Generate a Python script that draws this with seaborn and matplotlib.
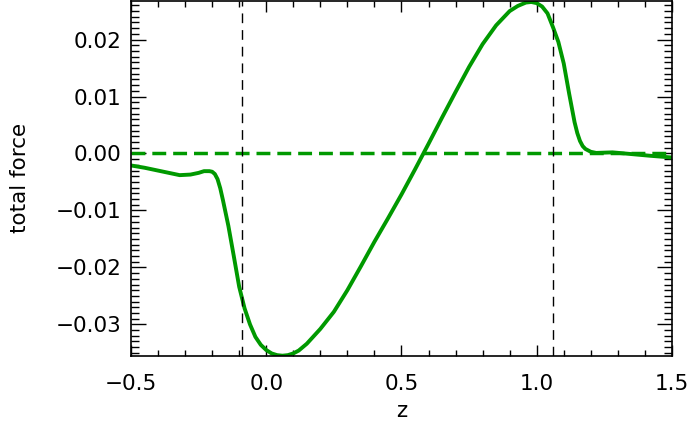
import matplotlib
matplotlib.use("Agg")
import matplotlib.pyplot as plt
import seaborn as sns
from matplotlib.ticker import MultipleLocator, FuncFormatter

# curve
z = [-0.50, -0.45, -0.40, -0.35, -0.32, -0.28, -0.25, -0.23, -0.21, -0.20,
     -0.19, -0.18, -0.17, -0.16, -0.14, -0.12, -0.10, -0.08, -0.06, -0.04,
     -0.02, 0.00, 0.02, 0.04, 0.06, 0.08, 0.10, 0.12, 0.15, 0.20,
     0.25, 0.30, 0.35, 0.40, 0.45, 0.50, 0.55, 0.60, 0.65, 0.70,
     0.75, 0.80, 0.85, 0.90, 0.93, 0.96, 0.98, 1.00, 1.02, 1.04,
     1.06, 1.08, 1.10, 1.12, 1.14, 1.15, 1.16, 1.17, 1.18, 1.20,
     1.22, 1.28, 1.35, 1.42, 1.50]
force = [-0.0021, -0.0025, -0.0030, -0.0035, -0.0038, -0.0037, -0.0034, -0.0031, -0.0031, -0.0032,
         -0.0036, -0.0045, -0.0061, -0.0082, -0.0127, -0.0180, -0.0234, -0.0272, -0.0300, -0.0322,
         -0.0336, -0.0345, -0.0351, -0.0354, -0.0355, -0.0354, -0.0351, -0.0346, -0.0334, -0.0308,
         -0.0278, -0.0240, -0.0198, -0.0155, -0.0114, -0.0072, -0.0028, 0.0017, 0.0063, 0.0108,
         0.0152, 0.0192, 0.0225, 0.0250, 0.0259, 0.0265, 0.0266, 0.0264, 0.0258, 0.0246,
         0.0222, 0.0196, 0.0158, 0.0105, 0.0055, 0.0036, 0.0022, 0.0013, 0.0008, 0.0003,
         0.0001, 0.0002, -0.0001, -0.0004, -0.0007]

zero_level = 0.0
vlines = [-0.09, 1.06]

sns.set_style("ticks")
plt.rcParams['font.family'] = ['DejaVu Sans']
plt.rcParams['text.color'] = 'black'
plt.rcParams['axes.labelcolor'] = 'black'
plt.rcParams['xtick.color'] = 'black'
plt.rcParams['ytick.color'] = 'black'

green = "#009900"

fig = plt.figure(figsize=(6.92, 4.24), dpi=100)
ax = fig.add_axes([0.1893, 0.1604, 0.7817, 0.8376])

sns.lineplot(x=z, y=force, color=green, lw=2.8, ax=ax, sort=False)
ax.axhline(zero_level, color=green, lw=2.5, ls=(0, (4, 2)))
for v in vlines:
    ax.axvline(v, color="black", lw=1, ls=(0, (7, 5)))

ax.set_xlim(-0.5, 1.5)
ax.set_ylim(-0.03555, 0.0268)


def fmt(dec):
    return FuncFormatter(lambda v, p: f"{v:.{dec}f}".replace("-", "\u2212") if abs(v) > 1e-9 else f"{0:.{dec}f}")


ax.xaxis.set_major_locator(MultipleLocator(0.5))
ax.xaxis.set_minor_locator(MultipleLocator(0.1))
ax.yaxis.set_major_locator(MultipleLocator(0.01))
ax.yaxis.set_minor_locator(MultipleLocator(0.001))
ax.xaxis.set_major_formatter(fmt(1))
ax.yaxis.set_major_formatter(fmt(2))

ax.tick_params(axis="both", which="both", direction="in", top=True, right=True,
               color="black", labelcolor="black", width=1, labelsize=15.5)
ax.tick_params(axis="x", which="major", length=8, pad=13)
ax.tick_params(axis="x", which="minor", length=4.5)
ax.tick_params(axis="y", which="major", length=11, pad=7)
ax.tick_params(axis="y", which="minor", length=6)

for s in ax.spines.values():
    s.set_linewidth(1.2)
    s.set_color("black")

ax.set_xlabel("z", fontsize=15.5, labelpad=5)
ax.set_ylabel("total force", fontsize=15.5, labelpad=18)

fig.savefig("out.png", dpi=100)
